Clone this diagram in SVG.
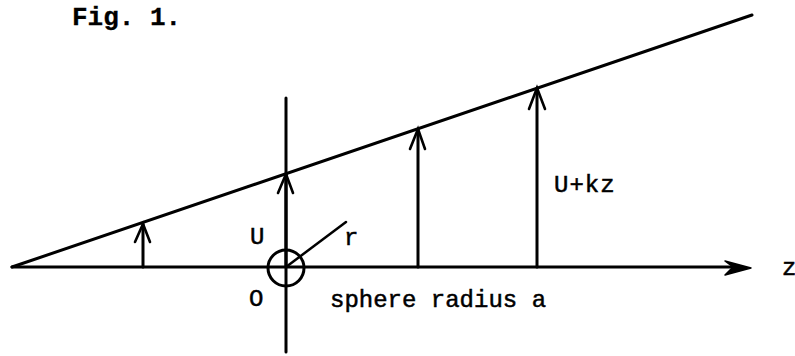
<svg xmlns="http://www.w3.org/2000/svg" width="795" height="356" viewBox="0 0 795 356">
<style>
.ln{stroke:#000;stroke-width:3;fill:none;stroke-linecap:round;stroke-linejoin:round}
.hd{stroke:#000;stroke-width:2.6;fill:none;stroke-linecap:round;stroke-linejoin:miter}
.t{font-family:"Liberation Mono","Courier New",monospace;fill:#000;stroke:#000;stroke-width:0.5;font-size:24px}
</style>
<rect width="795" height="356" fill="#fff"/>
<text id="title" class="t" x="72" y="25" style="font-weight:bold;font-size:26px;stroke-width:0.3">Fig. 1.</text>
<g id="connectors">
  <line id="z-axis" class="ln" x1="12" y1="267" x2="740" y2="267"/>
  <polygon id="z-arrowhead" points="751,268 725,261 733,267 725,275" fill="#000" stroke="#000" stroke-width="1.5" stroke-linejoin="round"/>
  <line id="vertical-axis" class="ln" x1="286" y1="98" x2="286" y2="352"/>
  <line id="velocity-line" class="ln" x1="12" y1="267" x2="752" y2="15"/>
  <line id="radius" class="ln" x1="286" y1="267" x2="346" y2="222" style="stroke-width:2.5"/>
  <g id="arrow1"><line class="ln" x1="143" y1="267" x2="143" y2="224"/><polyline class="hd" points="135,242 143,224 150,242"/></g>
  <g id="arrow2"><line class="ln" x1="286" y1="267" x2="286" y2="174"/><polyline class="hd" points="278,193 286,174 293,193"/></g>
  <g id="arrow3"><line class="ln" x1="418" y1="267" x2="418" y2="129"/><polyline class="hd" points="410,149 418,129 425,149"/></g>
  <g id="arrow4"><line class="ln" x1="537" y1="267" x2="537" y2="88"/><polyline class="hd" points="529,109 537,88 545,109"/></g>
</g>
<g id="sphere">
  <circle cx="286" cy="268" r="18" class="ln"/>
</g>
<g id="labels">
  <text class="t" x="250" y="244">U</text>
  <text class="t" x="344" y="245">r</text>
  <text class="t" x="249" y="306">O</text>
  <text class="t" x="330" y="307">sphere radius a</text>
  <text class="t" x="554" y="192" style="letter-spacing:1px">U+kz</text>
  <text class="t" x="782" y="275">z</text>
</g>
</svg>
